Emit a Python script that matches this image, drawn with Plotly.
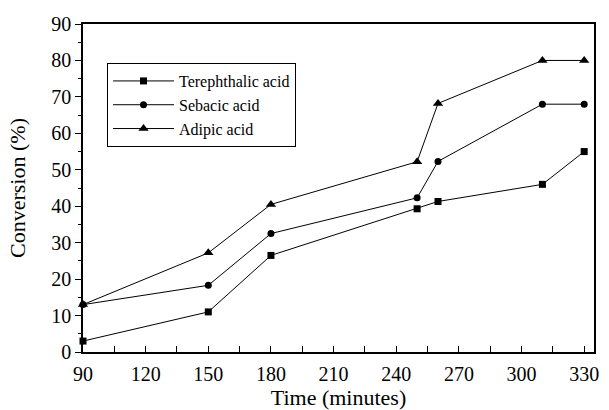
import plotly.graph_objects as go

time_min = [90, 150, 180, 250, 260, 310, 330]
terephthalic = [3, 11, 26.5, 39.3, 41.3, 46, 55]
sebacic = [13, 18.3, 32.5, 42.3, 52.3, 68, 68]
adipic = [13, 27.2, 40.5, 52.2, 68.2, 80, 80]

series = [
    ("Terephthalic acid", terephthalic, "square", 7),
    ("Sebacic acid", sebacic, "circle", 7),
    ("Adipic acid", adipic, "triangle-up", 9),
]

fig = go.Figure()
for name, vals, sym, size in series:
    fig.add_trace(go.Scatter(
        x=time_min, y=vals, name=name, mode="lines+markers",
        line=dict(color="black", width=1),
        marker=dict(symbol=sym, size=size, color="black"),
        cliponaxis=False,
    ))

FAM = "Liberation Serif"
tick_font = dict(family=FAM, size=20, color="black")
title_font = dict(family=FAM, size=22, color="black")

fig.update_layout(
    width=609, height=410,
    margin=dict(l=83, r=10, t=24, b=58),
    paper_bgcolor="white", plot_bgcolor="white",
    font=dict(family=FAM, size=16, color="black"),
    showlegend=True,
    legend=dict(
        x=0.047, y=0.881, xanchor="left", yanchor="top",
        bordercolor="black", borderwidth=1, bgcolor="white",
        font=dict(family=FAM, size=16, color="black"),
        tracegroupgap=0, itemwidth=61,
    ),
    xaxis=dict(
        range=[90, 334.7], tickvals=[90, 120, 150, 180, 210, 240, 270, 300, 330],
        ticks="inside", ticklen=6, tickwidth=1, tickcolor="black",
        minor=dict(dtick=15, tick0=90, ticks="inside", ticklen=6, tickwidth=1, tickcolor="black"),
        showline=True, linecolor="black", linewidth=1.5, mirror=True,
        showgrid=False, zeroline=False, tickfont=tick_font, ticklabelstandoff=3,
        title=dict(text="Time (minutes)", standoff=0, font=title_font),
    ),
    yaxis=dict(
        range=[0, 90], tickvals=[0, 10, 20, 30, 40, 50, 60, 70, 80, 90],
        ticks="outside", ticklen=6, tickwidth=1, tickcolor="black",
        minor=dict(dtick=5, tick0=0, ticks="outside", ticklen=3, tickwidth=1, tickcolor="black"),
        showline=True, linecolor="black", linewidth=1.5, mirror=True,
        showgrid=False, zeroline=False, tickfont=tick_font,
        title=dict(text="Conversion (%)", standoff=20, font=title_font),
    ),
)

fig.write_html("out.html")
